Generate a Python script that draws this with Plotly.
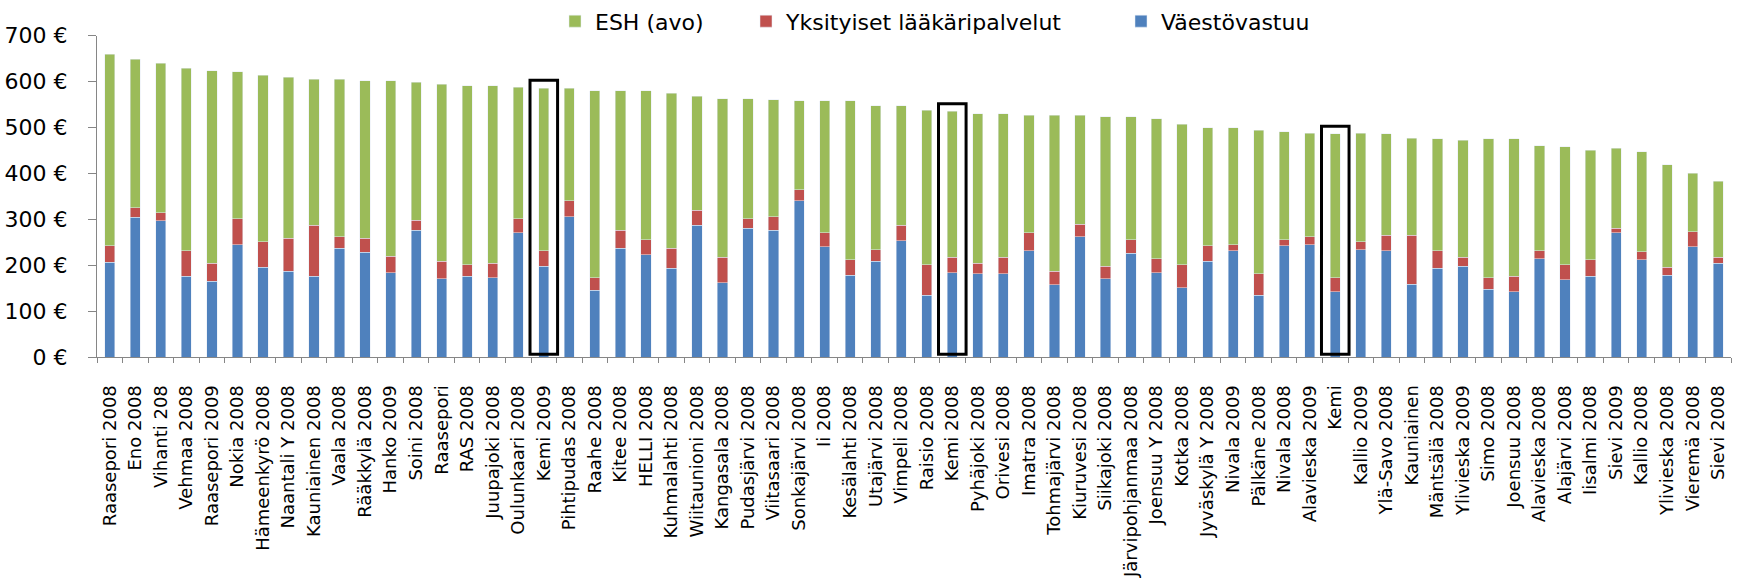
import plotly.graph_objects as go

# ---------------------------- data -----------------------

kunnat = [
    "Raasepori 2008", "Eno 2008", "Vihanti 208", "Vehmaa 2008", "Raasepori 2009",
    "Nokia 2008", "Hämeenkyrö 2008", "Naantali Y 2008", "Kauniainen 2008", "Vaala 2008",
    "Rääkkylä 2008", "Hanko 2009", "Soini 2008", "Raasepori", "RAS 2008",
    "Juupajoki 2008", "Oulunkaari 2008", "Kemi 2009", "Pihtipudas 2008", "Raahe 2008",
    "Kitee 2008", "HELLI 2008", "Kuhmalahti 2008", "Wiitaunioni 2008", "Kangasala 2008",
    "Pudasjärvi 2008", "Viitasaari 2008", "Sonkajärvi 2008", "Ii 2008", "Kesälahti 2008",
    "Utajärvi 2008", "Vimpeli 2008", "Raisio 2008", "Kemi 2008", "Pyhäjoki 2008",
    "Orivesi 2008", "Imatra 2008", "Tohmajärvi 2008", "Kiuruvesi 2008", "Siikajoki 2008",
    "Järvipohjanmaa 2008", "Joensuu Y 2008", "Kotka 2008", "Jyväskylä Y 2008", "Nivala 2009",
    "Pälkäne 2008", "Nivala 2008", "Alavieska 2009", "Kemi", "Kallio 2009",
    "Ylä-Savo 2008", "Kauniainen", "Mäntsälä 2008", "Ylivieska 2009", "Simo 2008",
    "Joensuu 2008", "Alavieska 2008", "Alajärvi 2008", "Iisalmi 2008", "Sievi 2009",
    "Kallio 2008", "Ylivieska 2008", "Vieremä 2008", "Sievi 2008",
]

vaestovastuu = [
    206, 304, 297, 176, 165, 245, 196, 187, 176, 237,
    228, 184, 276, 171, 176, 173, 271, 198, 306, 145,
    237, 223, 193, 287, 162, 281, 276, 340, 240, 178,
    209, 253, 135, 184, 181, 181, 232, 157, 262, 171,
    226, 184, 151, 209, 232, 135, 242, 245, 142, 234,
    232, 159, 193, 198, 148, 142, 214, 168, 176, 271,
    212, 178, 240, 204,
]

yksityiset = [
    36, 21, 17, 56, 39, 56, 55, 72, 111, 25,
    31, 36, 22, 38, 25, 31, 30, 34, 34, 28,
    39, 33, 44, 33, 55, 20, 30, 24, 31, 34,
    25, 34, 66, 33, 23, 36, 39, 30, 27, 27,
    30, 30, 50, 33, 13, 46, 14, 17, 31, 17,
    33, 106, 39, 19, 25, 34, 18, 33, 36, 10,
    17, 18, 33, 13,
]

esh_avo = [
    418, 324, 326, 397, 420, 321, 363, 351, 318, 343,
    343, 382, 301, 385, 390, 387, 287, 354, 246, 407,
    304, 324, 338, 248, 346, 262, 254, 194, 287, 346,
    313, 260, 337, 318, 326, 313, 256, 340, 238, 326,
    268, 305, 306, 257, 254, 313, 235, 226, 313, 237,
    221, 212, 243, 255, 302, 299, 228, 257, 238, 174,
    218, 223, 127, 166,
]

korostetut = ["Kemi 2009", "Kemi 2008", "Kemi"]

# ---------------------------- figure -----------------------

fnt = "DejaVu Sans"
W, H = 1738, 583
ml, mr, mb = 97, 7, 226
plot_top = 33          # pixel row of the 700 € line
paper_h = H - mb       # margin t is 0, the y domain leaves room for the legend

fig = go.Figure()

fig.add_trace(go.Bar(x=kunnat, y=vaestovastuu, name="Väestövastuu",
                     marker_color="#4F81BD", legend="legend3"))
fig.add_trace(go.Bar(x=kunnat, y=yksityiset, name="Yksityiset lääkäripalvelut",
                     marker_color="#C0504D", legend="legend2"))
fig.add_trace(go.Bar(x=kunnat, y=esh_avo, name="ESH (avo)",
                     marker_color="#9BBB59", legend="legend"))

# Black boxes round the highlighted bars
for nimi in korostetut:
    i = kunnat.index(nimi)
    top = vaestovastuu[i] + yksityiset[i] + esh_avo[i]
    fig.add_shape(type="rect", xref="x", yref="y",
                  x0=i - 0.54, x1=i + 0.54, y0=6, y1=top + 17,
                  line=dict(color="black", width=3), fillcolor="rgba(0,0,0,0)")


# legend placed by pixel position, converted to paper coords
def px_x(p):
    return (p - ml) / (W - ml - mr)


leg = dict(orientation="h", xanchor="left", yanchor="middle",
           y=1 - 18.5 / paper_h,
           font=dict(family=fnt, size=22, color="black"),
           bgcolor="rgba(0,0,0,0)", borderwidth=0)

fig.update_layout(
    barmode="stack",
    bargap=0.6,
    width=W, height=H,
    margin=dict(l=ml, r=mr, t=0, b=mb),
    paper_bgcolor="white",
    plot_bgcolor="white",
    font=dict(family=fnt, color="black"),
    showlegend=True,
    legend=dict(leg, x=px_x(555)),
    legend2=dict(leg, x=px_x(746)),
    legend3=dict(leg, x=px_x(1121)),
    xaxis=dict(
        type="category",
        automargin=False,
        tickangle=-90,
        tickfont=dict(family=fnt, size=18, color="black"),
        showline=True, linecolor="#868686", linewidth=1,
        ticks="outside", tickson="boundaries", ticklen=5, tickcolor="#868686",
        ticklabelstandoff=20,
        showgrid=False,
        range=[-0.5, len(kunnat) - 0.5],
    ),
    yaxis=dict(
        domain=[0, 1 - plot_top / paper_h],
        automargin=False,
        range=[0, 700],
        dtick=100,
        ticksuffix=" €",
        tickfont=dict(family=fnt, size=22, color="black"),
        showline=True, linecolor="#868686", linewidth=1,
        ticks="outside", ticklen=8, tickcolor="#868686",
        ticklabelstandoff=16,
        showgrid=False, zeroline=False,
    ),
)

# the page body has a default 8px margin; remove it so the figure sits at 0,0
fig.write_html("out.html", config={"displayModeBar": False},
               post_script="document.body.style.margin='0';")
